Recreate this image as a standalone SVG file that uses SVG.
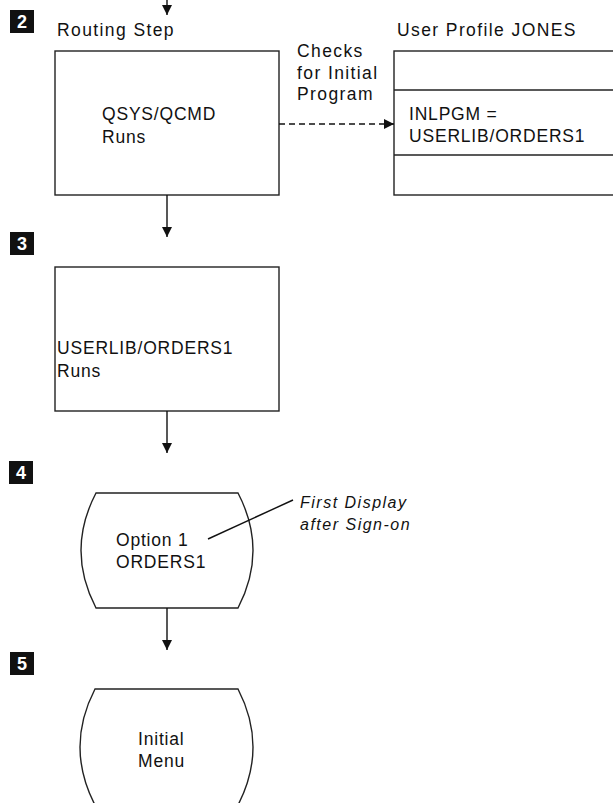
<svg xmlns="http://www.w3.org/2000/svg" width="613" height="803" viewBox="0 0 613 803">
<defs>
<marker id="ah" viewBox="0 0 10 10" refX="10" refY="5" markerWidth="10" markerHeight="10" markerUnits="userSpaceOnUse" orient="auto">
<path d="M0,0 L10,5 L0,10 Z" fill="#111"/>
</marker>
<style>
.box{fill:#fff;stroke:#222;stroke-width:1.4}
.t{font-family:"Liberation Sans",Arial,sans-serif;font-size:17.5px;letter-spacing:0.8px;fill:#111}
.h{font-family:"Liberation Sans",Arial,sans-serif;font-size:17.5px;letter-spacing:1.4px;fill:#111}
.i{font-family:"Liberation Sans",Arial,sans-serif;font-size:16px;font-style:italic;letter-spacing:1.5px;fill:#111}
.badge{fill:#111}
.bn{font-family:"Liberation Sans",Arial,sans-serif;font-size:18px;font-weight:bold;fill:#fff;text-anchor:middle}
.c{stroke:#111;stroke-width:1.4;fill:none}
</style>
</defs>
<rect width="613" height="803" fill="#fff"/>
<g id="step2">
<rect class="badge" x="10" y="10" width="24" height="23"/>
<text class="bn" x="22" y="28">2</text>
<text class="h" x="57" y="36">Routing Step</text>
</g>
<g id="qcmd">
<rect class="box" x="55" y="51" width="224" height="144"/>
<text class="t" x="102" y="120">QSYS/QCMD</text>
<text class="t" x="102" y="143">Runs</text>
</g>
<g id="checks-label">
<text class="h" x="297" y="57">Checks</text>
<text class="h" x="297" y="79">for Initial</text>
<text class="h" x="297" y="100">Program</text>
</g>
<g id="profile">
<text class="h" x="397" y="36">User Profile JONES</text>
<rect class="box" x="394" y="51" width="230" height="144"/>
<line class="box" x1="394" y1="90" x2="624" y2="90"/>
<line class="box" x1="394" y1="155" x2="624" y2="155"/>
<text class="t" x="409" y="120">INLPGM =</text>
<text class="t" x="409" y="142">USERLIB/ORDERS1</text>
</g>
<g id="step3">
<rect class="badge" x="10" y="232" width="24" height="23"/>
<text class="bn" x="22" y="250">3</text>
</g>
<g id="orders1">
<rect class="box" x="55" y="267" width="224" height="144"/>
<text class="t" x="57" y="354">USERLIB/ORDERS1</text>
<text class="t" x="57" y="377">Runs</text>
</g>
<g id="step4">
<rect class="badge" x="9" y="461" width="24" height="23"/>
<text class="bn" x="21" y="479">4</text>
</g>
<g id="display1">
<path class="box" d="M96,493 L238,493 Q268,550.5 238,608 L96,608 Q66,550.5 96,493 Z"/>
<text class="t" x="116" y="546">Option 1</text>
<text class="t" x="116" y="568">ORDERS1</text>
</g>
<g id="note">
<text class="i" x="300" y="508">First Display</text>
<text class="i" x="300" y="530">after Sign-on</text>
</g>
<g id="step5">
<rect class="badge" x="10" y="652" width="24" height="23"/>
<text class="bn" x="22" y="670">5</text>
</g>
<g id="initial-menu">
<path class="box" d="M95,689 L238,689 Q268,747 238,805 L95,805 Q65,747 95,689 Z"/>
<text class="t" x="138" y="745">Initial</text>
<text class="t" x="138" y="767">Menu</text>
</g>
<g id="connectors">
<line class="c" x1="167" y1="-5" x2="167" y2="15" marker-end="url(#ah)"/>
<line class="c" x1="167" y1="195" x2="167" y2="237" marker-end="url(#ah)"/>
<line class="c" x1="167" y1="411" x2="167" y2="453" marker-end="url(#ah)"/>
<line class="c" x1="167" y1="608" x2="167" y2="650" marker-end="url(#ah)"/>
<line class="c" x1="279" y1="124" x2="394" y2="124" stroke-dasharray="6,4" marker-end="url(#ah)"/>
<line class="c" x1="208" y1="539" x2="293" y2="500" stroke-width="1.2"/>
</g>
</svg>
